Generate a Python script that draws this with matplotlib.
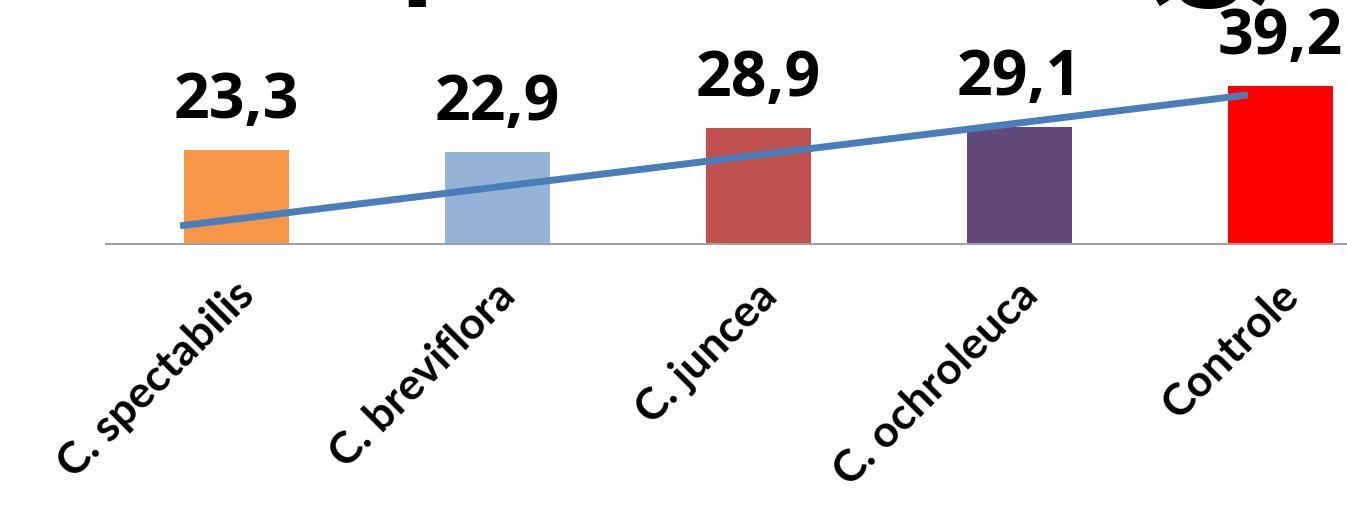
import matplotlib
matplotlib.use('Agg')
import matplotlib.pyplot as plt

# Dados do gráfico
categorias = ['C. spectabilis', 'C. breviflora', 'C. juncea', 'C. ochroleuca', 'Controle']
valores = [23.3, 22.9, 28.9, 29.1, 39.2]
cores = ['#F79646', '#95B3D7', '#C0504D', '#604A7B', '#FF0000']
# linha de tendência (desenhada por cima das barras)
tendencia_x = [-0.216, 3.875]
tendencia_y = [4.5, 37.0]
titulo = 'Massa fresca da parte aérea (g)'

W, H = 1347, 509
fig = plt.figure(figsize=(W / 100, H / 100), dpi=100)
ax = fig.add_axes([106 / W, 265 / H, 1305 / W, 241.8 / H])

x = range(len(categorias))
ax.bar(x, valores, width=0.40, color=cores, zorder=2)
ax.plot(tendencia_x, tendencia_y, color='#4A7EBB', lw=5, solid_capstyle='butt', zorder=3)

ax.set_xlim(-0.5, 4.5)
ax.set_ylim(0, 60)
for s in ['top', 'right', 'left']:
    ax.spines[s].set_visible(False)
ax.spines['bottom'].set_color('#A0A0A0')
ax.spines['bottom'].set_linewidth(1.5)
ax.set_yticks([])
ax.set_xticks([])

# rótulos de valor
for i, v in enumerate(valores):
    ax.annotate(f'{v:.1f}'.replace('.', ','), xy=(i, v), xytext=(0, 12),
                textcoords='offset points', ha='center', va='bottom',
                fontsize=45, fontweight='bold', family='Open Sans',
                annotation_clip=False)

# rótulos das categorias (inclinados)
for i, c in enumerate(categorias):
    ax.annotate(c, xy=(i, 0), xytext=(-2, -22), textcoords='offset points',
                ha='right', va='top', rotation=45, rotation_mode='anchor',
                fontsize=32, fontweight='bold', family='Lato',
                annotation_clip=False)

# título (cortado no topo da figura)
fig.text(1285 / W, 1 + 16 / H, titulo, ha='right', va='baseline',
         fontsize=100, fontweight='bold', family='Lato')

fig.savefig('out.png', dpi=100)
